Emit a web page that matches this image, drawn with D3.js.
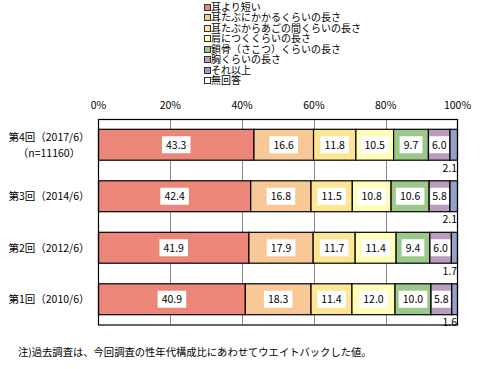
<!DOCTYPE html>
<html><head><meta charset="utf-8">
<script src="https://cdn.jsdelivr.net/npm/d3@7"></script>
<style>
html,body{margin:0;padding:0;background:#fff;}
svg text{font-family:"Noto Sans CJK JP","Noto Sans",sans-serif;fill:#000;}
</style></head>
<body>
<svg id="c" width="497" height="369"></svg>
<script>
const categories = ["第4回（2017/6）", "第3回（2014/6）", "第2回（2012/6）", "第1回（2010/6）"];
const subLabels = ["（n=11160）", "", "", ""];
const seriesNames = ["耳より短い", "耳たぶにかかるくらいの長さ", "耳たぶからあごの間くらいの長さ", "肩につくくらいの長さ", "鎖骨（さこつ）くらいの長さ", "胸くらいの長さ", "それ以上", "無回答"];
const seriesColors = ["#EC8678", "#F9C897", "#FDE594", "#FFFDB7", "#9DC88B", "#BA9CBD", "#95A2C8", "#FFFFFF"];
const values = [
  [43.3, 16.6, 11.8, 10.5, 9.7, 6.0, 2.1, 0],
  [42.4, 16.8, 11.5, 10.8, 10.6, 5.8, 2.1, 0],
  [41.9, 17.9, 11.7, 11.4, 9.4, 6.0, 1.7, 0],
  [40.9, 18.3, 11.4, 12.0, 10.0, 5.8, 1.6, 0]
];
const tickValues = [0, 20, 40, 60, 80, 100];
const footnote = "注)過去調査は、今回調査の性年代構成比にあわせてウエイトバックした値。";

const svg = d3.select("#c");
const x = d3.scaleLinear().domain([0, 100]).range([98.5, 457.5]);
const y = d3.scaleBand().domain(categories).range([119, 325]).paddingInner(0.4).paddingOuter(0.2);

// legend
const lg = svg.append("g");
seriesNames.forEach((n, i) => {
  const cy = 7 + i * 10.5;
  lg.append("rect").attr("x", 204.5).attr("y", cy - 3).attr("width", 6).attr("height", 6)
    .attr("fill", seriesColors[i]).attr("stroke", "#333").attr("stroke-width", 1).attr("shape-rendering","crispEdges");
  lg.append("text").attr("x", 211).attr("y", cy).attr("dy", "0.36em").attr("font-size", 10).text(n);
});

// gridlines
svg.append("g").selectAll("line").data(tickValues.slice(1, -1)).join("line")
  .attr("x1", d => Math.round(x(d)) + 0.5).attr("x2", d => Math.round(x(d)) + 0.5)
  .attr("y1", 119).attr("y2", 325).attr("stroke", "#888").attr("stroke-width", 1);

// tick labels
svg.append("g").selectAll("text").data(tickValues).join("text")
  .attr("x", d => x(d)).attr("y", 105).attr("dy", "0.36em").attr("text-anchor", "middle")
  .attr("font-size", 10.5).text(d => d + "%");

// bars
const stacked = values.map(row => {
  let acc = 0;
  return row.map((v, i) => { const s = acc; acc += v; return {s, e: acc, v, i}; });
});
categories.forEach((cat, r) => {
  const g = svg.append("g");
  const y0 = y(cat), bw = y.bandwidth();
  g.selectAll("rect").data(stacked[r].filter(d => d.v > 0)).join("rect")
    .attr("x", d => x(d.s)).attr("width", d => x(d.e) - x(d.s))
    .attr("y", y0).attr("height", bw)
    .attr("fill", d => seriesColors[d.i]).attr("stroke", "#000").attr("stroke-width", 1.2);
  stacked[r].filter(d => d.i < 6).forEach(d => {
    const cx = (x(d.s) + x(d.e)) / 2;
    const cy = y0 + bw / 2;
    const t = g.append("text").attr("x", cx).attr("y", cy).attr("dy", "0.36em")
      .attr("text-anchor", "middle").attr("font-size", 10.5).text(d.v.toFixed(1));
    const bb = t.node().getBBox();
    let w = bb.width + 8;
    const segW = x(d.e) - x(d.s) - 2;
    if (w > segW) w = segW;
    g.insert("rect", "text").attr("x", cx - w / 2).attr("y", cy - 8.5).attr("width", w).attr("height", 17)
      .attr("fill", "#fff");
  });
  const d6 = stacked[r][6];
  g.append("text").attr("x", 457).attr("y", y0 + bw + 8).attr("dy", "0.36em")
    .attr("text-anchor", "end").attr("font-size", 10.5).text(d6.v.toFixed(1));
  const cy = y0 + bw / 2;
  if (subLabels[r]) {
    svg.append("text").attr("x", 49).attr("y", cy - 8).attr("dy", "0.36em").attr("text-anchor", "middle").attr("font-size", 10.5).text(cat);
    svg.append("text").attr("x", 49).attr("y", cy + 8).attr("dy", "0.36em").attr("text-anchor", "middle").attr("font-size", 10.5).text(subLabels[r]);
  } else {
    svg.append("text").attr("x", 49).attr("y", cy).attr("dy", "0.36em").attr("text-anchor", "middle").attr("font-size", 10.5).text(cat);
  }
});

// plot border
svg.append("rect").attr("x", 98.5).attr("y", 119.5).attr("width", 359).attr("height", 205.5)
  .attr("fill", "none").attr("stroke", "#000").attr("stroke-width", 1.2);

// footnote
svg.append("text").attr("x", 18).attr("y", 352).attr("dy", "0.36em").attr("font-size", 10.3).text(footnote);
</script>
</body></html>
